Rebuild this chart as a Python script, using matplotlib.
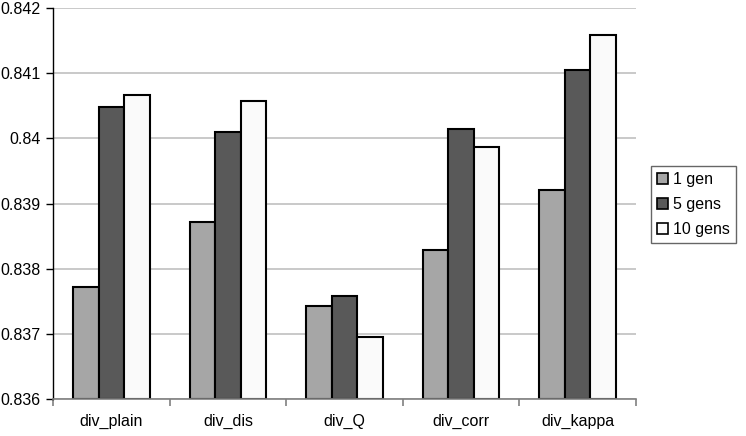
import matplotlib
matplotlib.use("Agg")
import matplotlib.pyplot as plt
import numpy as np

plt.rcParams['font.family'] = ['Liberation Sans', 'DejaVu Sans']

categories = ["div_plain", "div_dis", "div_Q", "div_corr", "div_kappa"]
series_names = ["1 gen", "5 gens", "10 gens"]
gen1 = [0.83772, 0.83872, 0.83743, 0.83829, 0.83920]
gen5 = [0.84048, 0.84010, 0.83758, 0.84014, 0.84105]
gen10 = [0.84067, 0.84058, 0.83695, 0.83986, 0.84158]
colors = ["#a6a6a6", "#595959", "#fafafa"]
yticks = [0.836, 0.837, 0.838, 0.839, 0.84, 0.841, 0.842]
ytick_labels = ["0.836", "0.837", "0.838", "0.839", "0.84", "0.841", "0.842"]

fig = plt.figure(figsize=(7.46, 4.36), dpi=100)
ax = fig.add_axes([53.3/746, 37/436, (635.8-53.3)/746, (399-8)/436])

x = np.arange(len(categories))
w = 0.22
base = 0.836
for j, (vals, name, c) in enumerate(zip([gen1, gen5, gen10], series_names, colors)):
    heights = [v - base for v in vals]
    ax.bar(x + (j - 1) * w, heights, width=w, bottom=base, color=c,
           edgecolor="black", linewidth=1.5, label=name, zorder=3)

ax.set_xlim(-0.5, len(categories) - 0.5)
ax.set_ylim(0.836, 0.842)
ax.set_yticks(yticks)
ax.set_yticklabels(ytick_labels, fontsize=11.5)
ax.yaxis.grid(True, color="#c0c0c0", linewidth=1.2, zorder=0)
ax.set_axisbelow(True)

ax.set_xticks(x)
ax.set_xticklabels(categories, fontsize=11.5)
ax.tick_params(axis='x', length=0, pad=11)
ax.set_xticks(np.arange(len(categories) + 1) - 0.5, minor=True)
ax.tick_params(axis='x', which='minor', length=5, color="#808080", width=1.2)
ax.tick_params(axis='y', length=5, color="black", width=1.0, pad=4)

for s in ["top", "right"]:
    ax.spines[s].set_visible(False)
ax.spines["left"].set_color("black")
ax.spines["left"].set_linewidth(1.0)
ax.spines["bottom"].set_color("#808080")
ax.spines["bottom"].set_linewidth(1.2)
ax.spines["bottom"].set_zorder(4)

leg = fig.legend(loc="upper left", bbox_to_anchor=(650.7/746, (436-165.7)/436),
                 fontsize=11.5, frameon=True, fancybox=False, handlelength=0.7,
                 handleheight=0.7, handletextpad=0.3, borderpad=0.4,
                 labelspacing=0.62, borderaxespad=0)
leg.get_frame().set_edgecolor("#404040")
leg.get_frame().set_linewidth(1.0)
for h in leg.legend_handles:
    h.set_linewidth(1.2)

fig.savefig("out.png", dpi=100)
